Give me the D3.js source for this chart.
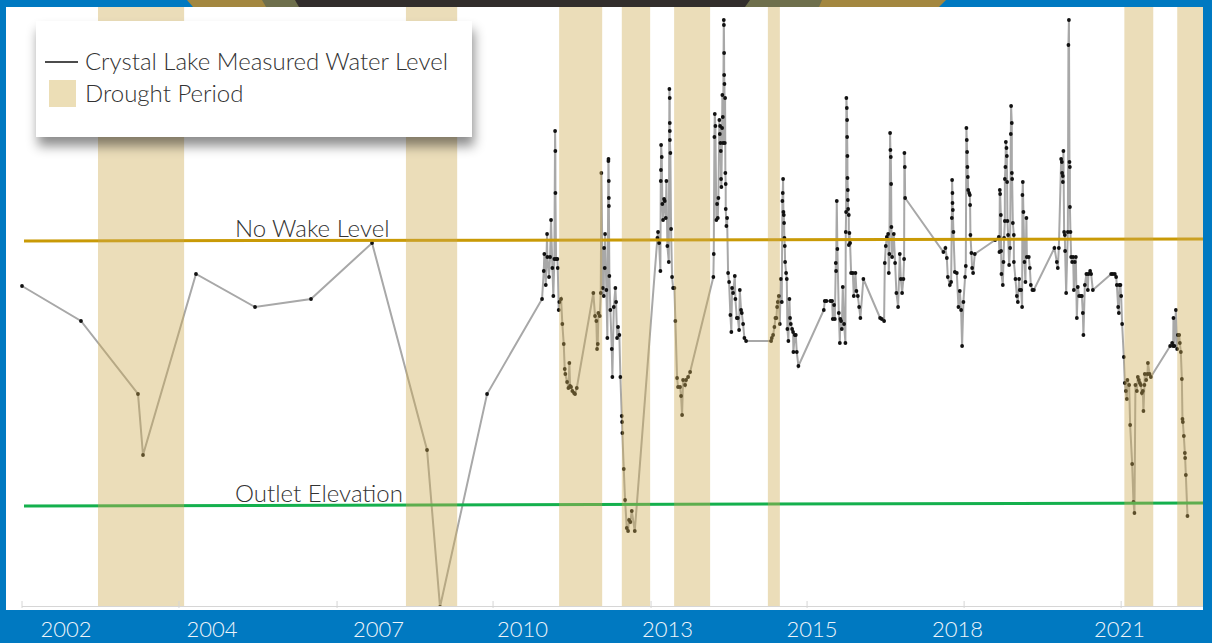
<!DOCTYPE html>
<html>
<head>
<meta charset="utf-8">
<script src="https://cdn.jsdelivr.net/npm/d3@7"></script>
<style>
  html, body { margin: 0; padding: 0; background: #0079c1; }
  svg { display: block; }
  .lbl { font-family: Lato, "Open Sans", sans-serif; font-weight: 300; fill: #333; }
  .tick_text { font-family: Lato, "Open Sans", sans-serif; font-weight: 300; fill: #eef4fa; }
</style>
</head>
<body>
<div id="chart"></div>
<script>
// measured lake level: [decimal year, feet above outlet]
const waterLevel = [
  [2000.826,2.20],[2001.908,1.85],[2002.954,1.12],[2003.046,0.51],[2004.018,2.32],[2005.101,1.99],[2006.128,2.07],[2007.248,2.63],[2008.257,0.56],[2008.495,-1.01],[2009.358,1.12],[2010.367,2.07],
  [2010.398,2.35],[2010.409,2.52],[2010.435,2.21],[2010.459,2.72],[2010.464,2.49],[2010.495,2.29],[2010.514,2.49],[2010.532,2.86],[2010.556,2.38],[2010.574,2.10],[2010.593,2.47],[2010.606,3.75],[2010.611,3.55],[2010.612,3.13],[2010.624,2.47],[2010.648,2.47],[2010.655,2.38],[2010.673,1.96],[2010.684,2.04],[2010.716,2.07],[2010.739,1.82],[2010.765,1.62],[2010.783,1.37],[2010.794,1.32],[2010.826,1.24],[2010.850,1.18],[2010.868,1.43],[2010.881,1.20],[2010.899,1.19],[2010.923,1.15],[2010.954,1.13],[2010.972,1.12],[2011.004,1.18],
  [2011.308,2.13],[2011.339,1.90],[2011.363,1.85],[2011.376,1.57],[2011.389,1.62],[2011.400,1.93],[2011.426,1.90],[2011.444,2.13],[2011.455,3.33],[2011.481,2.18],[2011.499,2.10],[2011.505,2.58],[2011.517,2.38],[2011.523,2.72],[2011.547,2.16],[2011.565,1.68],[2011.584,3.45],[2011.586,3.47],[2011.591,3.25],[2011.592,3.08],[2011.593,3.00],[2011.602,2.30],[2011.620,1.96],[2011.646,1.57],[2011.657,1.29],[2011.683,1.99],[2011.712,2.18],[2011.725,2.04],[2011.743,1.68],[2011.761,1.79],[2011.785,1.71],[2011.804,1.29],[2011.829,0.90],[2011.835,0.84],[2011.840,0.73],[2011.866,0.37],[2011.890,0.06],[2011.921,-0.22],[2011.945,-0.25],[2011.963,-0.14],[2011.987,-0.16],[2012.013,-0.05],[2012.068,-0.25],
  [2012.483,2.68],[2012.495,2.74],[2012.514,2.63],[2012.538,2.35],[2012.545,3.25],[2012.548,3.36],[2012.551,3.61],[2012.563,3.49],[2012.574,3.02],[2012.587,2.86],[2012.606,3.07],[2012.618,3.05],[2012.637,2.88],[2012.648,3.25],[2012.666,2.60],[2012.692,2.44],[2012.703,4.17],[2012.709,4.08],[2012.710,3.83],[2012.711,3.75],[2012.712,3.66],[2012.721,3.53],[2012.734,2.77],[2012.752,2.29],[2012.771,2.18],[2012.795,2.18],[2012.813,1.85],[2012.844,1.28],[2012.862,1.19],[2012.899,1.19],[2012.917,1.10],[2012.936,0.91],[2012.954,1.26],[2012.991,1.21],[2013.009,1.26],[2013.046,1.29],[2013.083,1.34],
  [2013.510,2.29],[2013.517,2.52],[2013.529,3.69],[2013.536,3.92],[2013.547,3.80],[2013.565,2.86],[2013.578,3.02],[2013.591,2.88],[2013.602,3.08],[2013.620,3.86],[2013.628,3.72],[2013.633,3.80],[2013.639,3.63],[2013.646,3.55],[2013.651,3.27],[2013.657,3.19],[2013.670,3.78],[2013.675,4.11],[2013.683,3.89],[2013.688,3.63],[2013.701,4.86],[2013.703,4.81],[2013.707,4.53],[2013.708,4.31],[2013.713,4.22],[2013.719,3.63],[2013.725,4.08],[2013.730,3.33],[2013.736,3.22],[2013.737,2.97],[2013.749,2.80],[2013.762,2.88],[2013.780,2.33],[2013.798,2.24],[2013.822,1.91],[2013.840,1.74],[2013.853,2.18],[2013.872,2.13],[2013.903,2.30],[2013.914,2.07],[2013.940,1.88],[2013.958,1.88],[2013.982,1.76],[2013.995,2.16],[2014.018,1.96],[2014.031,1.93],[2014.055,1.82],[2014.079,1.68],[2014.110,1.65],
  [2014.569,1.65],[2014.582,1.68],[2014.606,1.71],[2014.630,1.79],[2014.648,1.88],[2014.666,1.88],[2014.679,1.99],[2014.692,2.04],[2014.710,2.10],[2014.729,1.82],[2014.747,2.27],[2014.765,2.04],[2014.776,3.05],[2014.783,3.13],[2014.789,3.27],[2014.795,2.94],[2014.802,2.91],[2014.807,2.83],[2014.813,2.68],[2014.820,2.60],[2014.826,2.44],[2014.844,2.33],[2014.857,2.27],[2014.868,1.77],[2014.886,1.65],[2014.905,2.07],[2014.917,1.88],[2014.930,1.82],[2014.954,1.77],[2014.972,1.74],[2014.978,1.54],[2015.004,1.71],[2015.022,1.71],[2015.040,1.54],[2015.070,1.40],
  [2015.536,1.96],[2015.554,2.05],[2015.584,2.05],[2015.657,2.05],[2015.688,2.05],[2015.701,1.87],[2015.725,2.01],[2015.738,1.87],[2015.756,2.43],[2015.761,2.35],[2015.774,3.05],[2015.785,2.57],[2015.811,1.93],[2015.830,1.63],[2015.840,1.87],[2015.853,1.85],[2015.866,1.77],[2015.884,2.19],[2015.908,1.82],[2015.932,1.63],[2015.939,2.74],[2015.945,2.94],[2015.950,4.08],[2015.958,3.98],[2015.963,3.86],[2015.964,3.69],[2015.969,3.50],[2015.970,3.28],[2015.976,3.16],[2015.977,3.06],[2015.982,2.97],[2015.994,2.91],[2015.995,2.61],[2016.006,2.73],[2016.018,2.63],[2016.037,2.33],[2016.068,2.33],[2016.086,2.10],[2016.116,2.33],[2016.134,2.15],[2016.160,2.10],[2016.184,1.99],[2016.207,1.88],[2016.262,2.27],
  [2016.569,1.88],[2016.600,1.87],[2016.642,1.85],[2016.655,2.43],[2016.673,2.60],[2016.692,2.69],[2016.716,2.72],[2016.728,2.33],[2016.739,2.52],[2016.752,3.73],[2016.758,3.56],[2016.765,3.49],[2016.771,3.22],[2016.776,2.79],[2016.789,2.49],[2016.820,2.72],[2016.844,2.43],[2016.868,2.13],[2016.899,1.99],[2016.930,2.52],[2016.949,2.27],[2016.972,2.13],[2016.996,2.27],[2017.009,2.47],[2017.015,3.53],[2017.022,3.39],[2017.028,3.08],
  [2017.730,2.54],[2017.767,2.58],[2017.793,2.48],[2017.811,2.29],[2017.848,2.21],[2017.872,2.24],[2017.885,2.88],[2017.890,3.26],[2017.896,3.13],[2017.897,3.03],[2017.903,2.96],[2017.914,2.74],[2017.940,2.34],[2017.976,2.33],[2018.006,1.99],[2018.031,2.15],[2018.055,1.96],[2018.073,1.60],[2018.097,2.04],[2018.128,2.29],[2018.141,2.40],[2018.152,3.78],[2018.159,3.66],[2018.165,3.54],[2018.171,3.39],[2018.178,3.29],[2018.184,3.16],[2018.202,3.13],[2018.215,3.11],[2018.220,3.01],[2018.226,2.71],[2018.244,2.53],[2018.257,2.38],[2018.275,2.33],[2018.306,2.52],
  [2018.679,2.66],[2018.747,2.69],[2018.758,2.54],[2018.765,3.16],[2018.771,3.12],[2018.784,2.91],[2018.789,2.55],[2018.795,2.32],[2018.820,2.21],[2018.832,2.44],[2018.844,2.68],[2018.857,2.85],[2018.858,3.27],[2018.868,3.39],[2018.876,3.64],[2018.887,3.58],[2018.894,3.50],[2018.899,3.24],[2018.905,2.85],[2018.917,2.71],[2018.936,2.41],[2018.954,2.58],[2018.967,3.72],[2018.972,4.00],[2018.985,3.83],[2018.986,3.33],[2018.991,3.27],[2019.004,2.83],[2019.022,2.71],[2019.023,2.44],[2019.052,2.27],[2019.077,2.10],[2019.096,2.04],[2019.119,2.27],[2019.132,2.16],[2019.156,2.16],[2019.174,1.99],[2019.180,3.11],[2019.187,3.24],[2019.198,2.94],[2019.217,2.44],[2019.235,2.24],[2019.253,2.88],[2019.261,2.49],[2019.297,2.49],[2019.316,2.38],[2019.334,2.21],[2019.363,2.16],[2019.389,2.16],
  [2019.767,2.58],[2019.811,2.44],[2019.829,2.38],[2019.848,2.58],[2019.890,3.47],[2019.903,3.44],[2019.908,3.33],[2019.921,3.30],[2019.922,3.24],[2019.932,3.55],[2019.945,2.74],[2019.958,2.71],[2019.963,2.55],[2019.982,2.13],[2020.013,2.74],[2020.024,4.61],[2020.033,4.86],[2020.043,3.44],[2020.050,3.39],[2020.051,2.99],[2020.061,2.74],[2020.074,2.49],[2020.092,2.44],[2020.110,2.49],[2020.123,2.16],[2020.141,2.44],[2020.160,2.49],[2020.178,1.88],[2020.196,2.19],[2020.220,2.10],[2020.251,2.10],[2020.270,2.10],[2020.288,1.93],[2020.299,1.71],[2020.325,2.21],[2020.354,2.32],[2020.380,2.16],[2020.391,2.32],[2020.422,2.35],[2020.440,2.32],[2020.472,2.16],
  [2020.808,2.32],[2020.839,2.32],[2020.875,2.32],[2020.899,2.29],[2020.912,2.21],[2020.936,1.99],[2020.949,1.93],[2020.960,2.21],[2020.978,2.21],[2020.991,2.10],[2021.009,1.82],[2021.040,1.49],[2021.058,1.23],[2021.077,1.15],[2021.095,1.07],[2021.106,1.26],[2021.138,1.21],[2021.156,0.81],[2021.193,0.42],[2021.217,0.04],[2021.235,-0.07],[2021.253,1.21],[2021.279,1.15],[2021.297,1.29],[2021.316,1.26],[2021.334,1.23],[2021.352,1.21],[2021.371,1.13],[2021.389,1.15],[2021.400,0.95],[2021.418,1.21],[2021.425,1.32],[2021.450,1.26],[2021.474,1.32],[2021.482,1.43],[2021.511,1.32],[2021.536,1.29],
  [2021.890,1.60],[2021.927,1.63],[2021.945,1.60],[2021.951,1.88],[2021.969,1.60],[2021.995,1.96],[2022.018,1.57],[2022.031,1.71],[2022.055,1.71],[2022.068,1.63],[2022.086,1.54],[2022.105,1.27],[2022.116,0.87],[2022.123,0.84],[2022.141,0.70],[2022.160,0.53],[2022.165,0.48],[2022.178,0.31],[2022.208,-0.10]
]

// drought periods [start, end] in decimal years
const droughtPeriods = [
  [2002.22, 2003.80], [2007.87, 2008.81], [2010.68, 2011.47], [2011.83, 2012.35],
  [2012.79, 2013.45], [2014.51, 2014.73], [2021.05, 2021.58], [2022.02, 2022.60]
]

// reference levels, value at left end and at right end
const noWakeLevel = [2.65, 2.67]
const outletLevel = [0.0, 0.03]

// x axis
const tickLabelYears = [2001.633, 2004.312, 2007.367, 2010.007, 2012.670, 2015.321, 2017.991, 2020.963]
const tickLabels = ["2002", "2004", "2007", "2010", "2013", "2015", "2018", "2021"]
const tickMarkYears = [2000.826, 2003.706, 2006.606, 2009.468, 2012.367, 2015.229, 2018.110, 2020.991]

const W = 1212, H = 643
const plot = {left: 6, right: 1203, top: 7, bottom: 610}

let svg = d3.select("#chart").append("svg")
  .attr("width", W).attr("height", H)

let defs = svg.append("defs")
defs.append("clipPath").attr("id", "plotclip")
  .append("rect").attr("x", plot.left).attr("y", plot.top)
  .attr("width", plot.right - plot.left).attr("height", plot.bottom - plot.top - 3)

let shadow = defs.append("filter").attr("id", "shadow")
  .attr("x", "-10%").attr("y", "-20%").attr("width", "120%").attr("height", "160%")
shadow.append("feDropShadow").attr("dx", 2).attr("dy", 9).attr("stdDeviation", 6)
  .attr("flood-color", "#000").attr("flood-opacity", 0.45)

// blue frame
svg.append("rect").attr("width", W).attr("height", H).style("fill", "#0079c1")

// top stripe
svg.append("polygon").attr("points", "187,0 946,0 939,7 193,7").style("fill", "#a3873f")
svg.append("polygon").attr("points", "262,0 822,0 819,7 266,7").style("fill", "#6e6f4c")
svg.append("polygon").attr("points", "295,0 750,0 745,7 299,7").style("fill", "#322e2c")

// plot background
svg.append("rect").attr("x", plot.left).attr("y", plot.top)
  .attr("width", plot.right - plot.left).attr("height", plot.bottom - plot.top)
  .style("fill", "#fff")

let x = d3.scaleLinear().domain([2000.826, 2022.5]).range([22, 1203.4])
let y = d3.scaleLinear().domain([-1.0, 4.98]).range([606, 8])

let g = svg.append("g").attr("clip-path", "url(#plotclip)")

// axis line and ticks
svg.append("line").attr("x1", 22).attr("x2", plot.right).attr("y1", 606.5).attr("y2", 606.5)
  .style("stroke", "#d6d6d6").style("stroke-width", 1)
svg.selectAll(".tickmark").data(tickMarkYears).enter().append("line")
  .attr("class", "tickmark")
  .attr("x1", d => x(d)).attr("x2", d => x(d)).attr("y1", 601).attr("y2", 608)
  .style("stroke", "#d6d6d6").style("stroke-width", 1)

// water level line + points
let line = d3.line().x(d => x(d[0])).y(d => y(d[1]))
g.append("path").datum(waterLevel).attr("d", line)
  .style("fill", "none").style("stroke", "#a8a8a8").style("stroke-width", 2)
g.selectAll(".pt").data(waterLevel).enter().append("circle")
  .attr("class", "pt").attr("cx", d => x(d[0])).attr("cy", d => y(d[1])).attr("r", 1.9)
  .style("fill", "#111")

// reference lines
g.append("line").attr("x1", 24).attr("x2", plot.right)
  .attr("y1", y(noWakeLevel[0])).attr("y2", y(noWakeLevel[1]))
  .style("stroke", "#c99a06").style("stroke-width", 3)
g.append("line").attr("x1", 24).attr("x2", plot.right)
  .attr("y1", y(outletLevel[0])).attr("y2", y(outletLevel[1]))
  .style("stroke", "#14b04d").style("stroke-width", 3)

// drought bands
g.selectAll(".drought").data(droughtPeriods).enter().append("rect")
  .attr("class", "drought")
  .attr("x", d => x(d[0])).attr("width", d => x(d[1]) - x(d[0]))
  .attr("y", plot.top).attr("height", plot.bottom - plot.top)
  .style("fill", "rgb(205,170,80)").style("fill-opacity", 0.4)

// level labels
svg.append("text").attr("class", "lbl").attr("x", 235).attr("y", y(noWakeLevel[0]) - 4)
  .style("font-size", "24px").text("No Wake Level")
svg.append("text").attr("class", "lbl").attr("x", 235).attr("y", y(outletLevel[0]) - 4)
  .style("font-size", "24px").text("Outlet Elevation")

// x tick labels
svg.selectAll(".tick_text").data(tickLabelYears).enter().append("text")
  .attr("class", "tick_text")
  .attr("x", d => x(d)).attr("y", 637)
  .attr("text-anchor", "middle").style("font-size", "22px")
  .text((d, i) => tickLabels[i])

// legend
let legend = svg.append("g")
legend.append("rect").attr("x", 36).attr("y", 21).attr("width", 436).attr("height", 116)
  .style("fill", "#fff").attr("filter", "url(#shadow)")
legend.append("line").attr("x1", 45).attr("x2", 78).attr("y1", 62).attr("y2", 62)
  .style("stroke", "#111").style("stroke-width", 1.5)
legend.append("rect").attr("x", 49).attr("y", 80).attr("width", 27).attr("height", 27)
  .style("fill", "#ecdeb6")
legend.append("text").attr("class", "lbl").attr("x", 85).attr("y", 70)
  .style("font-size", "24px").text("Crystal Lake Measured Water Level")
legend.append("text").attr("class", "lbl").attr("x", 85).attr("y", 102)
  .style("font-size", "24px").text("Drought Period")
</script>
</body>
</html>
